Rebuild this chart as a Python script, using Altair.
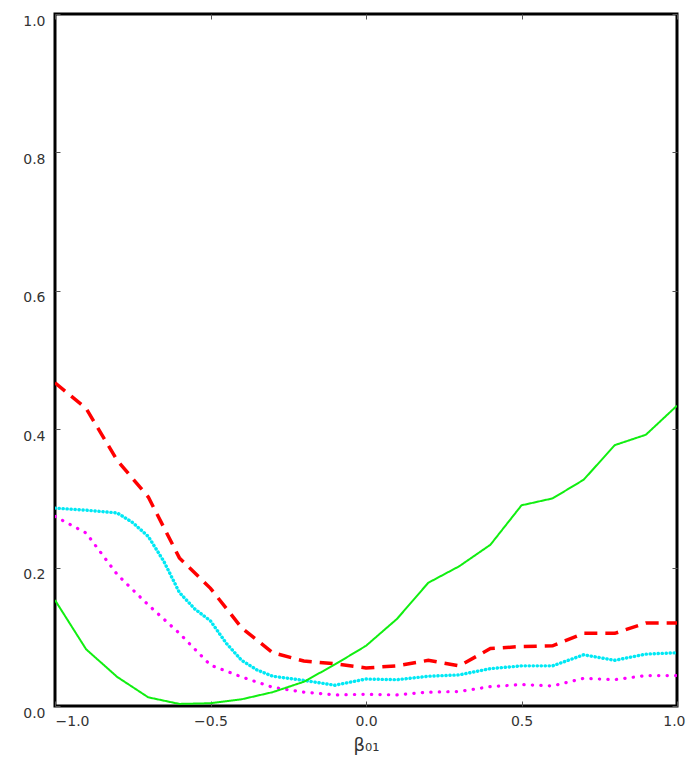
import altair as alt
import pandas as pd

# ---- data ----
x_std = [-1.0, -0.9, -0.8, -0.7, -0.6, -0.5, -0.4, -0.3, -0.2, -0.1,
         0.0, 0.1, 0.2, 0.3, 0.4, 0.5, 0.6, 0.7, 0.8, 0.9, 1.0]

red = [0.467, 0.430, 0.355, 0.302, 0.214, 0.170, 0.113, 0.077, 0.065, 0.061,
       0.055, 0.058, 0.066, 0.058, 0.083, 0.086, 0.087, 0.105, 0.105, 0.120, 0.120]

green = [0.153, 0.082, 0.042, 0.0125, 0.003, 0.004, 0.0097, 0.020, 0.035, 0.060,
         0.087, 0.126, 0.178, 0.202, 0.233, 0.290, 0.300, 0.327, 0.377, 0.392, 0.434]

magenta = [0.274, 0.250, 0.190, 0.146, 0.105, 0.059, 0.042, 0.027, 0.020, 0.016,
           0.017, 0.016, 0.020, 0.021, 0.028, 0.031, 0.029, 0.040, 0.038, 0.044, 0.044]

x_cyan = [-1.0, -0.9, -0.8, -0.75, -0.7, -0.65, -0.6, -0.55, -0.5, -0.45, -0.4,
          -0.35, -0.3, -0.25, -0.2, -0.1,
          0.0, 0.1, 0.2, 0.3, 0.4, 0.5, 0.6, 0.7, 0.8, 0.9, 1.0]
cyan = [0.286, 0.283, 0.279, 0.265, 0.245, 0.209, 0.164, 0.140, 0.123, 0.091, 0.066,
        0.052, 0.043, 0.040, 0.037, 0.030,
        0.039, 0.038, 0.043, 0.045, 0.054, 0.058, 0.058, 0.074, 0.066, 0.075, 0.077]

x_ticks = [-1.0, -0.5, 0.0, 0.5, 1.0]
y_ticks = [0.0, 0.2, 0.4, 0.6, 0.8, 1.0]

W, H = 622, 692
FONT = "DejaVu Sans"

df_red = pd.DataFrame({"x": x_std, "y": red})
df_green = pd.DataFrame({"x": x_std, "y": green})
df_mag = pd.DataFrame({"x": x_std, "y": magenta})
df_cyan = pd.DataFrame({"x": x_cyan, "y": cyan})

xs = alt.Scale(domain=[-1, 1], nice=False, zero=False)
ys = alt.Scale(domain=[0, 1], nice=False, zero=False)

label_axis_x = alt.Axis(
    orient="bottom", values=x_ticks, format=".1f", ticks=False, domain=False, grid=False,
    labelFont=FONT, labelFontSize=14, labelColor="#333333", labelPadding=8,
    labelAlign=alt.ExprRef("datum.value <= -1 ? 'left' : (datum.value >= 1 ? 'right' : 'center')"),
    labelOffset=alt.ExprRef("datum.value >= 1 ? 8 : 0"),
    title="β₀₁", titleFont=FONT, titleFontSize=18, titleFontWeight="normal",
    titleColor="#333333", titlePadding=8,
)
label_axis_y = alt.Axis(
    orient="left", values=y_ticks, format=".1f", ticks=False, domain=False, grid=False,
    labelFont=FONT, labelFontSize=14, labelColor="#333333", labelPadding=10,
    labelOffset=7, title=None,
)


def tick_axis(orient, values, offset):
    return alt.Axis(orient=orient, values=values, labels=False, domain=False, grid=False,
                    ticks=True, tickSize=5, tickColor="#555555", tickWidth=1,
                    offset=offset, title=None)


def line(df, color, width, dash, cap="butt", xaxis=None, yaxis=None, opacity=1):
    return alt.Chart(df).mark_line(
        color=color, strokeWidth=width, strokeDash=dash, strokeCap=cap,
        opacity=opacity, clip=True,
    ).encode(
        x=alt.X("x:Q", scale=xs, axis=xaxis),
        y=alt.Y("y:Q", scale=ys, axis=yaxis),
    )


red_l = line(df_red, "#ff0000", 3.5, [13, 8], xaxis=label_axis_x, yaxis=label_axis_y)
cyan_l = line(df_cyan, "#00e8f4", 3.4, [0.3, 3.7], cap="round")
mag_l = line(df_mag, "#ff00ff", 3.2, [0.3, 8.2], cap="round")
green_l = line(df_green, "#11ee11", 2, [1, 0])

ticks_a = line(df_green, "#ffffff", 1, [1, 0], opacity=0,
               xaxis=tick_axis("top", x_ticks, -H), yaxis=tick_axis("right", y_ticks, -W))
ticks_b = line(df_green, "#ffffff", 1, [1, 0], opacity=0,
               xaxis=tick_axis("bottom", x_ticks, -H), yaxis=tick_axis("left", y_ticks, -W))

chart = alt.layer(
    red_l, cyan_l, mag_l, green_l, ticks_a, ticks_b
).resolve_scale(
    x="independent", y="independent"
).resolve_axis(
    x="independent", y="independent"
).properties(
    width=W, height=H,
    padding={"left": 47, "top": 6, "right": 9, "bottom": 50},
    autosize="none",
    background="white",
).configure_view(
    stroke="black", strokeWidth=3
)

chart.save("out.html", embed_options={"renderer": "svg", "actions": False})
